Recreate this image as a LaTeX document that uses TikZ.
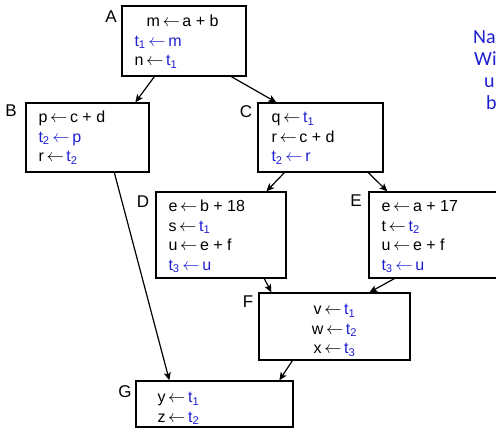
\documentclass[tikz,border=0pt]{standalone}
\usepackage{fontspec}
\setmainfont{Liberation Sans}
\newfontfamily\notefont{Carlito}
\usetikzlibrary{arrows.meta}
\definecolor{cfgblue}{RGB}{30,30,210}
\newcommand{\bl}[1]{\textcolor{cfgblue}{#1}}
\newcommand{\tmp}[1]{\bl{t\textsubscript{#1}}}
\newcommand{\asg}{\,$\leftarrow$\,}

\begin{document}
\begin{tikzpicture}[x=1pt,y=-1pt]
    % Style definitions
    \tikzset{
      blk/.style={draw, line width=1.3pt, inner sep=0pt},
      code/.style={font=\fontsize{16}{19.5}\selectfont, inner sep=0pt, align=left, anchor=north west},
      lbl/.style={font=\fontsize{17}{17}\selectfont, inner sep=0pt},
      flow/.style={line width=1.2pt, -{Stealth[length=8pt,width=7pt,inset=2pt]}},
      note/.style={font=\notefont\fontsize{20}{22}\selectfont, text=cfgblue, inner sep=0pt, anchor=base west},
    }
    % ------------------------------------------------------------------
    % Helper macro: one basic block #1 from corner (#2,#3) to (#4,#5)
    % ------------------------------------------------------------------
    \newcommand{\cfgblock}[5]{%
      \pgfmathsetmacro{\bw}{#4-#2}%
      \pgfmathsetmacro{\bh}{#5-#3}%
      \node[blk, minimum width=\bw pt, minimum height=\bh pt] (#1)
        at ({(#2+#4)/2},{(#3+#5)/2}) {};%
    }

    \useasboundingbox (0,0) rectangle (496,429);
    \clip (0,0) rectangle (496,429);

    % Basic blocks
    \cfgblock{A}{122}{6}{246}{76}
    \cfgblock{B}{26}{103}{149}{172}
    \cfgblock{C}{258}{103}{383}{172}
    \cfgblock{D}{156}{192}{286}{278}
    \cfgblock{E}{369}{192}{500}{278}
    \cfgblock{F}{259}{293}{410}{360}
    \cfgblock{G}{136}{381}{293}{427}

    % Block names
    \node[lbl] (labA) at (111,17) {A};
    \node[lbl] (labB) at (11,111) {B};
    \node[lbl] (labC) at (246,112) {C};
    \node[lbl] (labD) at (143,202) {D};
    \node[lbl] (labE) at (356,201) {E};
    \node[lbl] (labF) at (248,302) {F};
    \node[lbl] (labG) at (125,392) {G};

    % Block contents
    \node[code] (codeA) at ([xshift=13pt, yshift=-7.4pt]A.north west)
      {\strut\hspace*{12pt}m\asg a + b\\ \bl{t\textsubscript{1}\asg m}\\ n\asg\tmp{1}};
    \node[code] (codeB) at ([xshift=13pt, yshift=-6.4pt]B.north west)
      {\strut p\asg c + d\\ \bl{t\textsubscript{2}\asg p}\\ r\asg\tmp{2}};
    \node[code] (codeC) at ([xshift=14pt, yshift=-6.4pt]C.north west)
      {\strut q\asg\tmp{1}\\ r\asg c + d\\ \bl{t\textsubscript{2}\asg r}};
    \node[code] (codeD) at ([xshift=13pt, yshift=-6.4pt]D.north west)
      {\strut e\asg b + 18\\ s\asg\tmp{1}\\ u\asg e + f\\ \bl{t\textsubscript{3}\asg u}};
    \node[code] (codeE) at ([xshift=13pt, yshift=-6.4pt]E.north west)
      {\strut e\asg a + 17\\ t\asg\tmp{2}\\ u\asg e + f\\ \bl{t\textsubscript{3}\asg u}};
    \node[code, align=center, anchor=north] (codeF) at ([yshift=-8.4pt]F.north)
      {\strut v\asg\tmp{1}\\ w\asg\tmp{2}\\ x\asg\tmp{3}};
    \node[code] (codeG) at ([xshift=22pt, yshift=-8.4pt]G.north west)
      {\strut y\asg\tmp{1}\\ z\asg\tmp{2}};

    % Control flow edges
    \draw[flow] ([xshift=33pt]A.south west) -- ([xshift=110pt]B.north west);
    \draw[flow] ([xshift=110pt]A.south west) -- ([xshift=19pt]C.north west);
    \draw[flow] ([xshift=27pt]C.south west) -- ([xshift=111pt]D.north west);
    \draw[flow] ([xshift=111pt]C.south west) -- ([xshift=19pt]E.north west);
    \draw[flow] ([xshift=109pt]D.south west) -- ([xshift=13pt]F.north west);
    \draw[flow] ([xshift=26pt]E.south west) -- ([xshift=111pt]F.north west);
    \draw[flow] ([xshift=89pt]B.south west) -- ([xshift=34pt]G.north west);
    \draw[flow] ([xshift=34pt]F.south west) -- ([xshift=144pt]G.north west);

    % Side note at the right edge
    \foreach \txt/\xx/\yy [count=\k] in {Na/473/43, Wi/474/65.5, u/484/87.5, b/486/109.5}
      \node[note] (note\k) at (\xx,\yy) {\txt};
\end{tikzpicture}
\end{document}
